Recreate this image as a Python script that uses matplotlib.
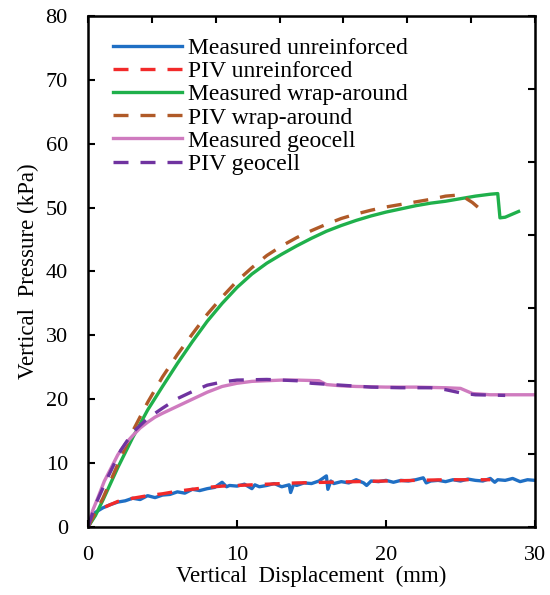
import matplotlib
matplotlib.use('Agg')
import matplotlib.pyplot as plt

plt.rcParams['font.family'] = ['Liberation Serif', 'DejaVu Serif']

# measured unreinforced
mu_x = [0, 0.25, 0.5, 1.0, 1.5, 2.0, 2.5, 3.0, 3.5, 4.0, 4.5, 5.0, 5.5, 6.0, 6.5, 7.0, 7.5, 8.0, 8.5,
        9.0, 9.3, 9.5, 10.0, 10.5, 11.0, 11.2, 11.5, 12.0, 12.5, 13.0, 13.5, 13.6, 13.8, 14.0, 14.5,
        15.0, 15.5, 16.0, 16.1, 16.3, 16.5, 17.0, 17.5, 18.0, 18.5, 18.7, 19.0, 19.5, 20.0, 20.5,
        21.0, 21.5, 22.0, 22.5, 22.7, 23.0, 23.5, 24.0, 24.5, 25.0, 25.5, 26.0, 26.5, 27.0, 27.3,
        27.5, 28.0, 28.5, 29.0, 29.5, 30.0]
mu_y = [0, 1.6, 2.3, 3.0, 3.5, 3.9, 4.1, 4.5, 4.3, 4.9, 4.6, 5.0, 5.1, 5.5, 5.3, 5.9, 5.7, 6.0, 6.2,
        7.0, 6.3, 6.5, 6.4, 6.7, 6.0, 6.6, 6.3, 6.5, 6.8, 6.3, 6.6, 5.4, 6.7, 6.5, 6.9,
        6.8, 7.2, 8.0, 5.9, 7.2, 6.8, 7.1, 6.9, 7.4, 6.9, 6.5, 7.2, 7.1, 7.3, 7.0,
        7.3, 7.2, 7.4, 7.7, 6.9, 7.2, 7.3, 7.1, 7.4, 7.2, 7.5, 7.3, 7.2, 7.6, 7.0,
        7.4, 7.3, 7.6, 7.1, 7.4, 7.3]

# PIV unreinforced
pu_x = [0, 0.5, 1, 2, 3, 4, 5, 6, 7, 8, 9, 10, 12, 14, 16, 18, 20, 22, 24, 27]
pu_y = [0, 2.0, 3.0, 4.0, 4.5, 4.9, 5.2, 5.6, 5.9, 6.2, 6.4, 6.5, 6.7, 6.9, 7.0, 7.1, 7.2, 7.3, 7.4, 7.4]

# measured wrap-around
mw_x = [0, 0.5, 1, 2, 3, 4, 5, 6, 7, 8, 9, 10, 11, 12, 13, 14, 15, 16, 17, 18, 19, 20, 21, 22,
        23, 24, 25, 26, 27, 27.5, 27.65, 28, 28.9]
mw_y = [0, 1.8, 4.2, 9.3, 14.0, 18.3, 22.0, 25.6, 29.0, 32.2, 35.0, 37.5, 39.6, 41.3, 42.7, 44.0,
        45.2, 46.3, 47.2, 48.0, 48.7, 49.3, 49.8, 50.3, 50.7, 51.0, 51.4, 51.8, 52.1, 52.2, 48.4,
        48.5, 49.4]

# PIV wrap-around
pw_x = [0, 1, 2, 3, 4, 5, 6, 7, 8, 9, 10, 11, 12, 13, 14, 15, 16, 17, 18, 19, 20, 21, 22, 23,
        24, 25, 25.8, 26.6]
pw_y = [0, 4.5, 9.8, 15.0, 19.5, 23.5, 27.0, 30.2, 33.3, 36.0, 38.5, 40.6, 42.5, 44.0, 45.3, 46.4,
        47.4, 48.3, 49.0, 49.6, 50.1, 50.5, 50.9, 51.3, 51.8, 52.0, 50.8, 49.2]

# measured geocell
mg_x = [0, 0.3, 0.65, 1.1, 1.5, 2, 2.5, 3, 3.5, 4, 4.5, 5, 6, 7, 8, 9, 10, 11, 12, 13, 14, 15.5,
        16, 17, 18, 20, 22, 24, 25, 25.8, 27, 30]
mg_y = [0, 2.5, 4.5, 7.2, 9.0, 11.3, 13.0, 14.3, 15.5, 16.4, 17.2, 17.8, 18.9, 20.0, 21.1, 22.0,
        22.5, 22.8, 22.9, 23.0, 23.0, 22.9, 22.3, 22.1, 22.0, 21.9, 21.9, 21.8, 21.7, 20.9, 20.7, 20.7]

# PIV geocell
pg_x = [0, 0.5, 1.35, 2.2, 3, 4, 5, 6, 7, 8, 9, 10, 12, 14, 15, 17, 19, 21, 23, 24, 25, 26, 28]
pg_y = [0, 3.5, 7.9, 12.0, 14.8, 17.0, 18.6, 20.1, 21.2, 22.2, 22.7, 23.0, 23.1, 22.9, 22.5, 22.2,
        21.9, 21.8, 21.8, 21.5, 21.0, 20.7, 20.6]

fig = plt.figure(figsize=(5.5, 5.95), dpi=100)
ax = fig.add_axes([0.16, 0.1143, 0.8127, 0.8588])

lw = 2.4
dash = (4.5, 3.6)
ax.plot(mu_x, mu_y, color='#1f6fc4', lw=lw, label='Measured unreinforced')
ax.plot(pu_x, pu_y, color='#f22a2a', lw=lw, dashes=dash, label='PIV unreinforced')
ax.plot(mw_x, mw_y, color='#1fb04b', lw=lw, label='Measured wrap-around')
ax.plot(pw_x, pw_y, color='#b05a28', lw=lw, dashes=dash, label='PIV wrap-around')
ax.plot(mg_x, mg_y, color='#cf7bbf', lw=lw, label='Measured geocell')
ax.plot(pg_x, pg_y, color='#7033a0', lw=lw, dashes=dash, label='PIV geocell')

ax.set_xlim(0, 30)
ax.set_ylim(0, 80)
ax.set_xticks([0, 10, 20, 30])
ax.set_yticks(range(0, 81, 10))
ax.tick_params(direction='in', length=5, width=1.5, labelsize=16)
ax.tick_params(axis='y', pad=14.5)
ax.tick_params(axis='x', pad=14)
for s in ax.spines.values():
    s.set_linewidth(1.8)

# secondary ticks on top and right
sx = ax.secondary_xaxis('top')
sx.set_ticks([30 * k / 7 for k in range(8)])
sx.tick_params(direction='in', length=5, width=1.5, labeltop=False)
sy = ax.secondary_yaxis('right')
sy.set_ticks([80 * k / 7 for k in range(8)])
sy.tick_params(direction='in', length=5, width=1.5, labelright=False)

ax.set_xlabel('Vertical  Displacement  (mm)', fontsize=16.5, labelpad=0)
ax.set_ylabel('Vertical  Pressure (kPa)', fontsize=16.5, labelpad=5)

ax.legend(loc='upper left', bbox_to_anchor=(0.056, 0.958), frameon=False, fontsize=17,
          handlelength=2.92, handletextpad=0.25, labelspacing=0.07, borderaxespad=0,
          borderpad=0)

fig.savefig('out.png', dpi=100)
